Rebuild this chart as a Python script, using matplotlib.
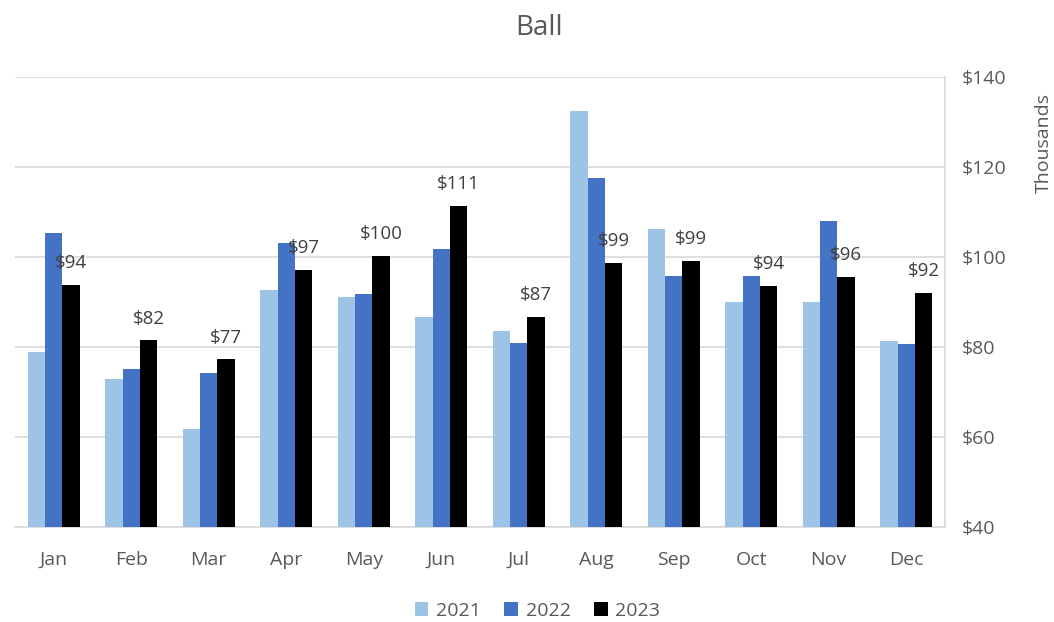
import matplotlib.pyplot as plt
import numpy as np

# Monthly totals (thousands of $)
months = ["Jan", "Feb", "Mar", "Apr", "May", "Jun", "Jul", "Aug", "Sep", "Oct", "Nov", "Dec"]
sales_2021 = [79.0, 73.0, 61.8, 92.7, 91.2, 86.6, 83.6, 132.3, 106.1, 90.1, 90.1, 81.4]
sales_2022 = [105.2, 75.1, 74.2, 103.1, 91.8, 101.8, 80.8, 117.6, 95.8, 95.8, 108.0, 80.7]
sales_2023 = [93.8, 81.5, 77.3, 97.1, 100.3, 111.4, 86.7, 98.7, 99.2, 93.6, 95.6, 92.0]
years = ["2021", "2022", "2023"]
colors = ["#9DC3E6", "#4472C4", "#000000"]

plt.rcParams["font.family"] = ["Open Sans", "DejaVu Sans"]
text_col = "#595959"
grid_col = "#D9D9D9"

fig = plt.figure(figsize=(10.54, 6.22), dpi=100)
ax = fig.add_axes([15 / 1054, 0.1523, 930 / 1054, 0.7244])

x = np.arange(len(months))
w = 0.222
series = [sales_2021, sales_2022, sales_2023]
for i, (vals, yr, c) in enumerate(zip(series, years, colors)):
    bars = ax.bar(x + (i - 1) * w, vals, w, color=c, label=yr, zorder=3)
    if yr == "2023":
        for b, v in zip(bars, vals):
            ax.annotate(f"${v:.0f}", (b.get_x() + b.get_width() / 2, v),
                        xytext=(0, 9), textcoords="offset points",
                        ha="center", va="bottom", fontsize=13.5, color="#404040", zorder=4)

ax.set_xlim(-0.5, len(months) - 0.5)
ax.set_ylim(40, 140)
ax.set_yticks(range(40, 141, 20))
ax.set_yticklabels([f"${v}" for v in range(40, 141, 20)])
ax.yaxis.tick_right()
ax.set_xticks(x)
ax.set_xticklabels(months)
ax.tick_params(axis="both", length=0, labelsize=14, colors=text_col)
ax.tick_params(axis="x", pad=17)
ax.tick_params(axis="y", pad=12)
ax.grid(axis="y", color=grid_col, linewidth=1.2, zorder=0)

for s in ["top", "left"]:
    ax.spines[s].set_visible(False)
ax.spines["bottom"].set_color(grid_col)
ax.spines["right"].set_color(grid_col)
ax.spines["bottom"].set_linewidth(1.2)
ax.spines["right"].set_linewidth(1.2)

fig.text(0.511, 0.955, "Ball", ha="center", va="center", fontsize=20, color=text_col)
fig.text(0.990, 0.77, "Thousands", rotation=90, ha="center", va="center", fontsize=14, color=text_col)

leg = fig.legend(loc="center", bbox_to_anchor=(0.51, 0.018), ncol=3, frameon=False,
                 fontsize=14, handlelength=0.7, handleheight=0.7, columnspacing=1.2,
                 handletextpad=0.4, labelcolor=text_col)

fig.savefig("out.png", dpi=100)
